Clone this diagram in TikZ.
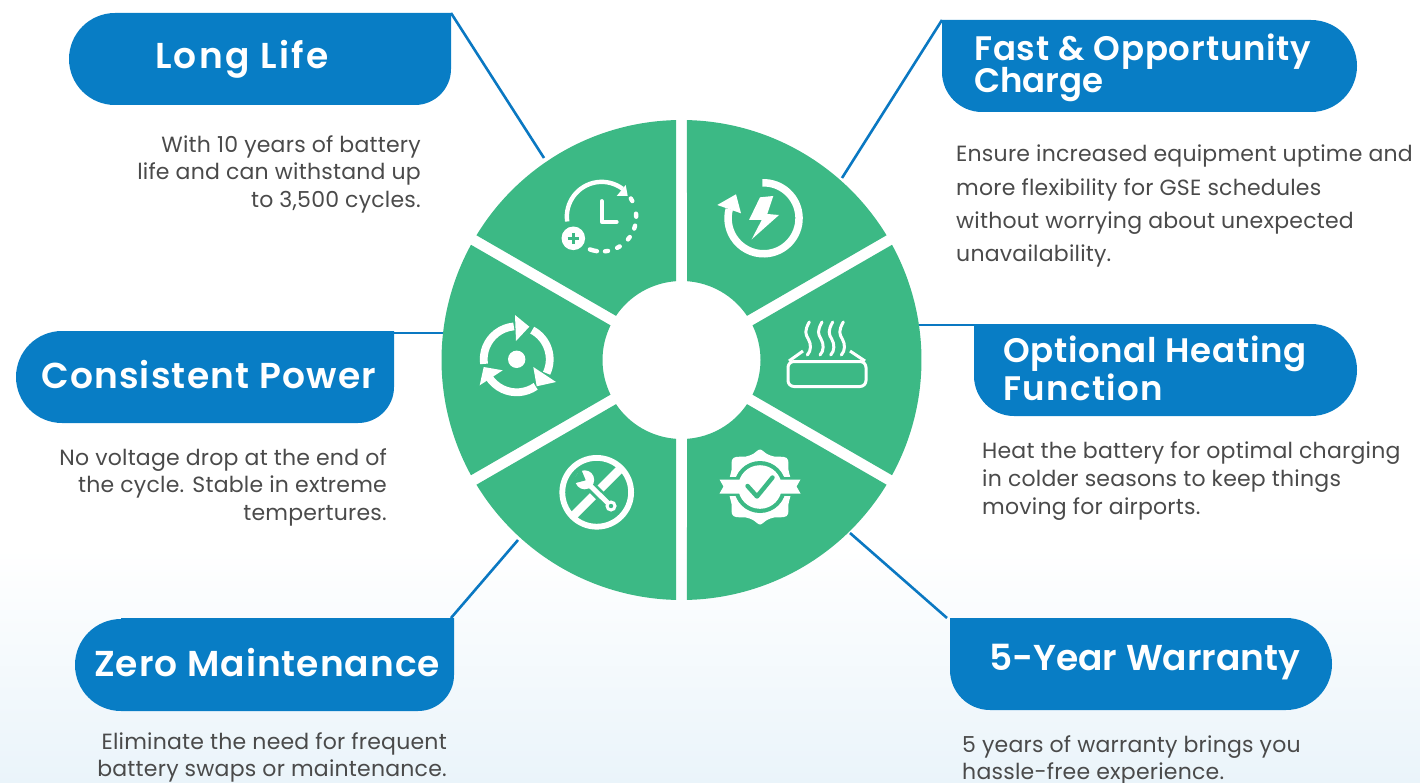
\documentclass[tikz,border=0pt]{standalone}
\usepackage{fontspec}
\setmainfont{Poppins}[LetterSpace=1]
\newfontfamily\titlef{Poppins SemiBold}
\newcommand{\ttlfont}[2]{\titlef\addfontfeatures{LetterSpace=#2}\fontsize{#1}{32}\selectfont}
\definecolor{pillblue}{HTML}{087DC5}
\definecolor{linkblue}{HTML}{0A78C2}
\definecolor{sectgreen}{HTML}{3CB985}
\definecolor{bodygrey}{HTML}{4A4A4A}
\definecolor{bgtint}{HTML}{EAF4FA}
\tikzset{
  titletext/.style={text=white,anchor=base west,inner sep=0pt},
  bodyL/.style={text=bodygrey,font=\fontsize{22}{27.5}\selectfont,anchor=north east,align=right,inner sep=0pt},
  bodyR/.style={text=bodygrey,font=\fontsize{22}{33.3}\selectfont,anchor=north west,align=left,inner sep=0pt},
  linkline/.style={draw=linkblue,line width=2.6pt},
}
\begin{document}
\begin{tikzpicture}[x=1pt,y=-1pt]
\useasboundingbox (0,0) rectangle (1420,783);
\fill[top color=white,bottom color=bgtint] (0,548) rectangle (1420,783);
\def\cx{681.5}\def\cy{360}
% connectors
\coordinate (c1a) at (451,13); \coordinate (c1b) at (544,158);
\coordinate (c2a) at (942,20); \coordinate (c2b) at (842,178);
\coordinate (c3a) at (394,333); \coordinate (c3b) at (444,333);
\coordinate (c4a) at (974,325); \coordinate (c4b) at (918,325);
\coordinate (c5a) at (451,618); \coordinate (c5b) at (518,540);
\coordinate (c6a) at (947,618); \coordinate (c6b) at (850,533);
\foreach \n in {1,...,6}{\draw[linkline] (c\n a)--(c\n b);}
% sectors (y axis points down, so angles run clockwise from +x)
\foreach \a/\b in {-90/-30,-30/30,30/90,90/150,150/210,210/270}{
  \pgfmathsetmacro\ao{\a+1.31}\pgfmathsetmacro\bo{\b-1.31}
  \pgfmathsetmacro\ai{\a+3.99}\pgfmathsetmacro\bi{\b-3.99}
  \fill[sectgreen] ({\cx+240*cos(\ao)},{\cy+240*sin(\ao)}) arc[start angle=\ao,end angle=\bo,radius=240]
     -- ({\cx+79*cos(\bi)},{\cy+79*sin(\bi)}) arc[start angle=\bi,end angle=\ai,radius=79] -- cycle;
}
% pills
\newcommand{\pill}[6]{%
 \ifnum#6=1
 \fill[pillblue] (#2+46,#3) -- (#4,#3) -- (#4,#5-36) arc[start angle=0,end angle=90,radius=36] -- (#2+46,#5) arc[start angle=90,end angle=270,radius=46] -- cycle;
 \else
 \fill[pillblue] (#4-46,#3) arc[start angle=-90,end angle=90,radius=46] -- (#2+40,#5) arc[start angle=90,end angle=180,radius=40] -- (#2,#3) -- cycle;
 \fi
 \coordinate (#1) at (#2,#3);
}
\pill{p1}{69}{13}{451}{105}{1}
\pill{p2}{942}{20}{1357}{112}{2}
\pill{p3}{16}{331}{394}{423}{1}
\pill{p4}{974}{324}{1357}{416}{2}
\pill{p5}{75}{618}{454}{711}{1}
\pill{p6}{950}{618}{1332}{710}{2}
% titles
\node[titletext,font=\ttlfont{36}{6.2}] (t1) at (155,69) {Long Life};
\node[titletext,font=\ttlfont{34}{2.4}] (t2a) at (974,61) {Fast \& Opportunity};
\node[titletext,font=\ttlfont{34}{0}] (t2b) at (974,93) {Charge};
\node[titletext,font=\ttlfont{36}{3.3}] (t3) at (41,388) {Consistent Power};
\node[titletext,font=\ttlfont{34}{2}] (t4a) at (1003,362) {Optional Heating};
\node[titletext,font=\ttlfont{34}{4}] (t4b) at (1003,400) {Function};
\node[titletext,font=\ttlfont{36}{2.8}] (t5) at (94,676) {Zero Maintenance};
\node[titletext,font=\ttlfont{36}{0}] (t6) at (989,670) {5-Year Warranty};
% body
\node[bodyL] (b1) at (421,135) {With 10 years of battery\\life and can withstand up\\to 3,500 cycles.};
\node[bodyR] (b2) at (956,145) {Ensure increased equipment uptime and\\more flexibility for GSE schedules\\without worrying about unexpected\\unavailability.};
\node[bodyL] (b3) at (387,448) {No voltage drop at the end of\\the cycle. Stable in extreme\\tempertures.};
\node[bodyR,font=\fontsize{22}{28}\selectfont] (b4) at (982,441) {Heat the battery for optimal charging\\in colder seasons to keep things\\moving for airports.};
\node[bodyL] (b5) at (447,732) {Eliminate the need for frequent\\battery swaps or maintenance.};
\node[bodyR,font=\fontsize{22}{27.5}\selectfont] (b6) at (962,735) {5 years of warranty brings you\\hassle-free experience.};
% icon: clock
\begin{scope}[shift={(601.7,217)}]
 \draw[white,line width=4.4pt] (-34.5,4.5) arc[start angle=172,end angle=307,radius=34.8];
 \fill[white] (24,-32) -- (26,-21) -- (15,-21) -- cycle;
 \foreach \ang in {-30,-3,17,38,61,82}{
   \pgfmathsetmacro\sa{\ang-2.5}\pgfmathsetmacro\ea{\ang+2.5}
   \draw[white,line width=4.4pt,line cap=round] ({34.5*cos(\sa)},{34.5*sin(\sa)}) arc[start angle=\sa,end angle=\ea,radius=34.5];
 }
 \draw[white,line width=4.4pt,line cap=round] ({34.5*cos(98)},{34.5*sin(98)}) arc[start angle=98,end angle=110,radius=34.5];
 \draw[white,line width=3.8pt,line cap=round,line join=round] (0,-16) -- (0,5) -- (15,5);
 \fill[white] (-28.4,21.3) circle (11.8);
 \draw[sectgreen,line width=3.4pt] (-34,21.3) -- (-23,21.3) (-28.4,16) -- (-28.4,27);
\end{scope}
% icon: bolt in circle
\begin{scope}[shift={(763.3,218.3)}]
 \draw[white,line width=7.5pt] (-1,-35.5) arc[start angle=-92,end angle=195,radius=35.5];
 \fill[white] (-46,-13.3) -- (-27.3,-24) -- (-22.3,-5) -- cycle;
 \fill[white] (-3.3,-21) -- (10,-22.3) -- (4,-4.3) -- (15.7,-3.3) -- (-11.6,21) -- (-1.6,1.7) -- (-14.3,1.7) -- cycle;
\end{scope}
% icon: heated tray
\begin{scope}[shift={(827,370)}]
 \draw[white,line width=3pt,rounded corners=6pt] (-39,-8.5) rectangle (39,16.5);
 \draw[white,line width=3pt] (-38,-9) -- (-24,-19) (38,-9) -- (23,-19);
 \foreach \xx in {-18.7,-6,4.7,15.3}{
  \draw[white,line width=3pt,line cap=round] (\xx+1,-48) .. controls (\xx-4,-39) and (\xx-3,-36) .. (\xx+0,-31) .. controls (\xx+3,-26) and (\xx+3,-19) .. (\xx-1,-15);
 }
\end{scope}
% icon: badge with check
\begin{scope}[shift={(760,487)}]
 \fill[white] plot[smooth cycle,tension=0.55] coordinates {(0,-37.5) (-7,-33) (-14,-30.5) (-24,-30) (-28,-27) (-28.5,-17) (-31,-6) (-31,6) (-28.5,17) (-28,27) (-24,30) (-14,30.5) (-7,33) (0,37.5) (7,33) (14,30.5) (24,30) (28,27) (28.5,17) (31,6) (31,-6) (28.5,-17) (28,-27) (24,-30) (14,-30.5) (7,-33)};
 \fill[sectgreen] (0,0) circle (26);
 \fill[sectgreen] (-33,-10) rectangle (33,9);
 \fill[white] (0,0) circle (21.8);
 \fill[white] (-40.5,-7.5) -- (40.5,-7.5) -- (36.5,-0.5) -- (40.5,6.5) -- (-40.5,6.5) -- (-36.5,-0.5) -- cycle;
 \draw[sectgreen,line width=4.4pt,line cap=round,line join=round] (-12.5,-1) -- (-3,9.5) -- (12.5,-9.5);
\end{scope}
% icon: no-tools
\begin{scope}[shift={(596.7,492.3)}]
 \draw[white,line width=5.8pt] (0,0) circle (34.4);
 \draw[white,line width=8.5pt] (-24,24) -- (24,-24);
 \draw[sectgreen,line width=10.5pt] (-8,-8) -- (17,17);
 \fill[sectgreen] (-12,-12.5) circle (11);
 \draw[white,line width=5pt] (-10,-10) -- (14.3,13.7);
 \fill[white] (-12,-12.5) circle (9.5);
 \fill[white] (14.3,13.7) circle (5.6);
 \fill[sectgreen] (14.3,13.7) circle (2.2);
 \fill[sectgreen] (-11,-12) -- (-16,-24) -- (-26,-8) -- cycle;
\end{scope}
% icon: recycle
\begin{scope}[shift={(516.7,359.3)}]
 \fill[white] (0,0) circle (8.7);
 \draw[white,line width=7.8pt] ({33*cos(172)},{33*sin(172)}) arc[start angle=172,end angle=265,radius=33];
 \fill[white] (-1.7,-44.3) -- (12.6,-32.6) -- (-0.7,-18.3) -- cycle;
 \draw[white,line width=7.8pt] ({33*cos(-62)},{33*sin(-62)}) arc[start angle=-62,end angle=25,radius=33];
 \fill[white] (16.6,7.7) -- (39.3,22.7) -- (20,27) -- cycle;
 \draw[white,line width=7.8pt] ({33*cos(55)},{33*sin(55)}) arc[start angle=55,end angle=150,radius=33];
 \fill[white] (-37,26) -- (-33,7.7) -- (-14,11) -- cycle;
\end{scope}
\end{tikzpicture}
\end{document}
